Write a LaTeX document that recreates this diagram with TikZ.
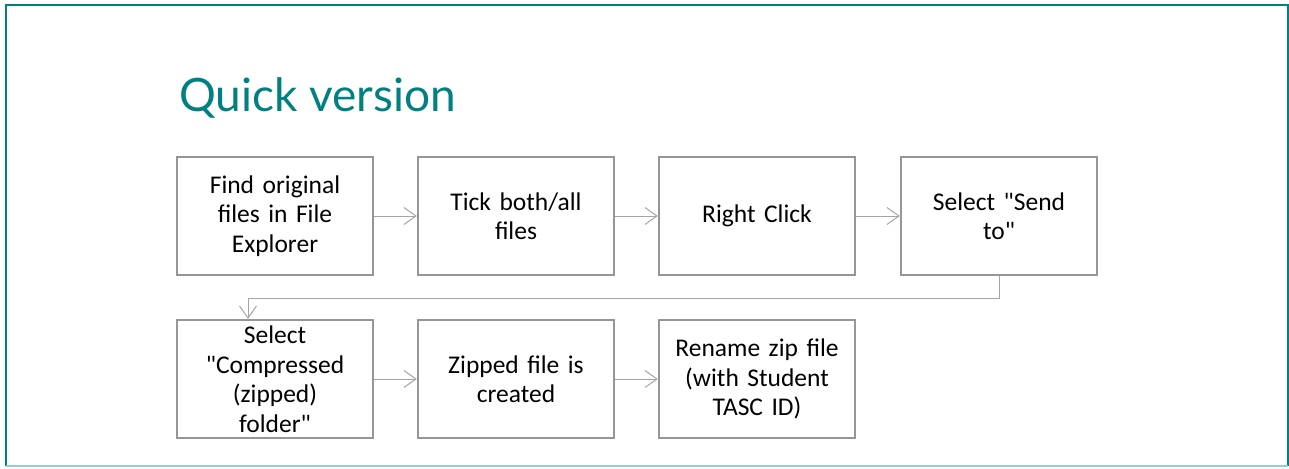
\documentclass[tikz,border=0pt]{standalone}
\usepackage{fontspec}
\setmainfont{Carlito}
\newfontfamily\titlefont{Lato}
\usepackage{tikz}
\usetikzlibrary{positioning, arrows.meta, calc}
\definecolor{QVTeal}{RGB}{0,128,128}
\definecolor{QVGrey}{RGB}{150,150,150}
\definecolor{QVArrow}{RGB}{165,165,165}

\begin{document}
\begin{tikzpicture}[x=1pt, y=-1pt,
          stepbox/.style={rectangle, draw=QVGrey, line width=2.4pt,
                     minimum width=196pt, minimum height=118pt,
                     text width=180pt, align=center,
                     font=\fontsize{25.5}{29.5}\selectfont},
          arr/.style={-{Straight Barb[length=12pt, width=17pt]},
                     draw=QVArrow, line width=1pt}
        ]
        \useasboundingbox (0,0) rectangle (1289,468);
        \draw[QVTeal, line width=2.2pt] (6,466) -- (6,5) -- (1288,5) -- (1288,466);
        \draw[QVTeal!40, line width=1.5pt] (6,466) -- (1288,466);

        \node[anchor=base west, font=\titlefont\fontsize{46}{50}\selectfont,
              text=QVTeal, inner sep=0pt] (title) at (179,112)
              {Quick version};

        \node[stepbox] (find)  at (275, 216)
              {Find original\\files in File\\Explorer};
        \node[stepbox] (tick)  at (516, 216)
              {Tick both/all\\files};
        \node[stepbox] (click) at (757, 216)
              {Right Click};
        \node[stepbox] (send)  at (999, 216)
              {Select \textquotedbl Send\\to\textquotedbl};
        \node[stepbox] (comp)  at (275, 379)
              {Select\\\textquotedbl Compressed\\(zipped)\\folder\textquotedbl};
        \node[stepbox] (zip)   at (516, 379)
              {Zipped file is\\created};
        \node[stepbox] (name)  at (757, 379)
              {Rename zip file\\(with Student\\TASC ID)};

        \draw[arr] (find)  -- (tick);
        \draw[arr] (tick)  -- (click);
        \draw[arr] (click) -- (send);
        \draw[arr] (send.south) -- ++(0,22) -| ([xshift=-27pt]comp.north);
        \draw[arr] (comp)  -- (zip);
        \draw[arr] (zip)   -- (name);
      \end{tikzpicture}
\end{document}
